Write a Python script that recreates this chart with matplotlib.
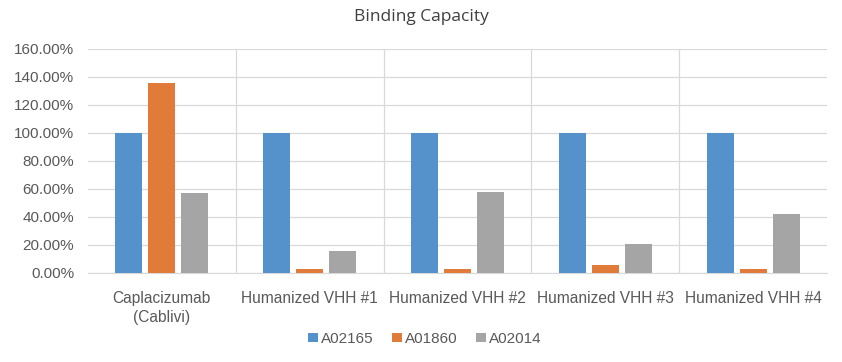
import matplotlib
matplotlib.use("Agg")
import matplotlib.pyplot as plt
import numpy as np
from matplotlib.ticker import FuncFormatter, MultipleLocator

categories = ["Caplacizumab\n(Cablivi)", "Humanized VHH #1", "Humanized VHH #2",
              "Humanized VHH #3", "Humanized VHH #4"]
series_names = ["A02165", "A01860", "A02014"]
a02165 = [100, 100, 100, 100, 100]
a01860 = [136, 3, 3, 6, 3]
a02014 = [57, 16, 58, 21, 42]
colors = ["#5591CB", "#E07B39", "#A5A5A5"]

plt.rcParams['font.family'] = ['Liberation Sans', 'DejaVu Sans']

fig = plt.figure(figsize=(8.42, 3.62), dpi=100)
ax = fig.add_axes([88/842, 1-273/362, (827-88)/842, (273-49)/362])

x = np.arange(len(categories))
width = 0.183
step = 0.223
for i, (vals, name, c) in enumerate(zip([a02165, a01860, a02014], series_names, colors)):
    ax.bar(x + (i-1)*step, vals, width, color=c, label=name, zorder=3)

ax.set_xlim(-0.5, len(categories)-0.5)
ax.set_ylim(0, 160)
ax.yaxis.set_major_locator(MultipleLocator(20))
ax.yaxis.set_major_formatter(FuncFormatter(lambda v, p: f"{v:.2f}%"))
ax.grid(axis='y', color='#D9D9D9', linewidth=0.9, zorder=0)
for sep in np.arange(0.5, len(categories)-0.5, 1.0):
    ax.axvline(sep, color='#D9D9D9', linewidth=0.9, zorder=0)
for s in ['top', 'right', 'left']:
    ax.spines[s].set_visible(False)
ax.spines['bottom'].set_color('#D9D9D9')
ax.set_xticks(x)
ax.set_xticklabels(categories, fontsize=11.2, color='#595959', linespacing=1.35)
ax.tick_params(axis='x', length=0, pad=13)
ax.tick_params(axis='y', length=0, labelsize=11, labelcolor='#595959', pad=10)

fig.text(0.5, 1-17/362, "Binding Capacity", ha='center', va='center',
         fontsize=12.5, color='#404040', family=['Open Sans', 'DejaVu Sans'])

fig.legend(loc='center', bbox_to_anchor=(0.505, 1-339/362), ncol=3, frameon=False,
           fontsize=11, handlelength=0.6, handleheight=0.6, handletextpad=0.25,
           columnspacing=1.2, labelcolor='#595959')

fig.savefig("out.png", dpi=100)
